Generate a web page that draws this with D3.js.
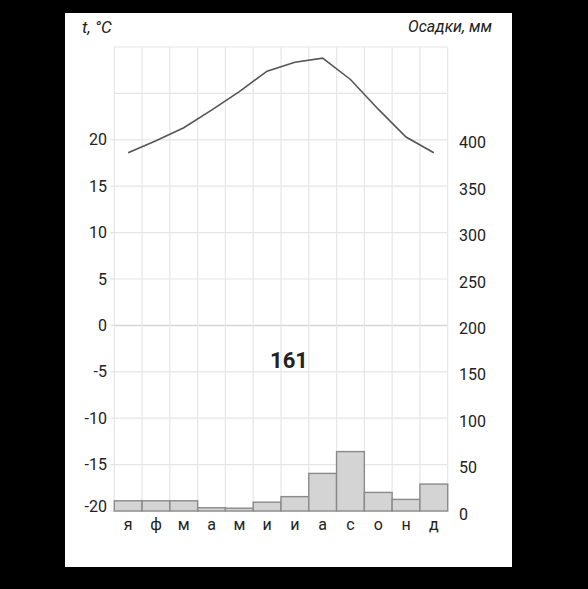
<!DOCTYPE html>
<html>
<head>
<meta charset="utf-8">
<script src="https://cdn.jsdelivr.net/npm/d3@7"></script>
<style>
  html, body { margin: 0; padding: 0; background: #000; }
  svg { display: block; }
  text { font-family: Roboto, "Noto Sans", sans-serif; fill: #222; }
</style>
</head>
<body>
<svg id="chart" width="588" height="589"></svg>
<script>
// ---- data ----
const months = ["я", "ф", "м", "а", "м", "и", "и", "а", "с", "о", "н", "д"];
const temperature = [18.6, 19.9, 21.3, 23.2, 25.2, 27.4, 28.35, 28.8, 26.5, 23.3, 20.3, 18.6];
const precipitation = [11, 11, 11, 3.5, 3, 9.5, 15.5, 40.5, 64, 20, 12.5, 29];
const tempTicks = [-20, -15, -10, -5, 0, 5, 10, 15, 20];
const precTicks = [0, 50, 100, 150, 200, 250, 300, 350, 400];
const gridTemps = [-20, -15, -10, -5, 0, 5, 10, 15, 20, 25, 30];
const annualLabel = "161";

// ---- layout ----
const svg = d3.select("#chart");
svg.append("rect").attr("x", 65).attr("y", 13).attr("width", 447).attr("height", 554).attr("fill", "#fff");

const x0 = 114.3, x1 = 447.7, yTop = 47, yBot = 511;
const x = d3.scaleBand().domain(d3.range(12)).range([x0, x1]).padding(0);
const yT = d3.scaleLinear().domain([-20, 30]).range([yBot, yTop]);
const yP = d3.scaleLinear().domain([0, 500]).range([yBot, yTop]);

// grid
const g = svg.append("g");
g.selectAll("line.h").data(gridTemps).join("line")
  .attr("x1", x0).attr("x2", x1)
  .attr("y1", d => yT(d)).attr("y2", d => yT(d))
  .attr("stroke", d => d === 0 ? "#d6d6d6" : "#e6e6e6").attr("stroke-width", d => d === 0 ? 1.5 : 1.2);
const vb = d3.range(13).map(i => i < 12 ? x(i) : x1);
g.selectAll("line.v").data(vb).join("line")
  .attr("x1", d => d).attr("x2", d => d)
  .attr("y1", yTop).attr("y2", yBot)
  .attr("stroke", "#e6e6e6").attr("stroke-width", 1.2);

// left ticks
g.selectAll("line.lt").data(tempTicks).join("line")
  .attr("x1", x0 - 4).attr("x2", x0)
  .attr("y1", d => yT(d)).attr("y2", d => yT(d))
  .attr("stroke", "#ddd");

// bars
svg.append("g").selectAll("rect").data(precipitation).join("rect")
  .attr("x", (d, i) => x(i)).attr("width", x.bandwidth())
  .attr("y", d => yP(d)).attr("height", d => yBot - yP(d))
  .attr("fill", "#d4d4d4").attr("stroke", "#8a8a8a").attr("stroke-width", 1.4);

// temperature line
const line = d3.line().x((d, i) => x(i) + x.bandwidth() / 2).y(d => yT(d));
svg.append("path").datum(temperature).attr("d", line)
  .attr("fill", "none").attr("stroke", "#555").attr("stroke-width", 1.6);

// left axis labels
svg.append("g").selectAll("text").data(tempTicks).join("text")
  .attr("x", 107).attr("y", d => Math.min(yT(d), yBot - 5))
  .attr("dy", "0.35em").attr("text-anchor", "end")
  .attr("font-size", 16).text(d => d);

// right axis labels
svg.append("g").selectAll("text").data(precTicks).join("text")
  .attr("x", 459).attr("y", d => yP(d) + 3)
  .attr("dy", "0.35em").attr("text-anchor", "start")
  .attr("font-size", 16).text(d => d);

// month labels
svg.append("g").selectAll("text").data(months).join("text")
  .attr("x", (d, i) => x(i) + x.bandwidth() / 2).attr("y", 530)
  .attr("text-anchor", "middle").attr("font-size", 16).text(d => d);

// titles
svg.append("text").attr("x", 82).attr("y", 33).attr("font-size", 17)
  .attr("font-style", "italic").text("t, °C");
svg.append("text").attr("x", 492).attr("y", 32).attr("font-size", 16)
  .attr("font-style", "italic").attr("text-anchor", "end").text("Осадки, мм");

// annual precipitation
svg.append("text").attr("x", 289).attr("y", 368).attr("font-size", 22)
  .attr("font-weight", "bold").attr("text-anchor", "middle").attr("fill", "#111").text(annualLabel);
</script>
</body>
</html>
